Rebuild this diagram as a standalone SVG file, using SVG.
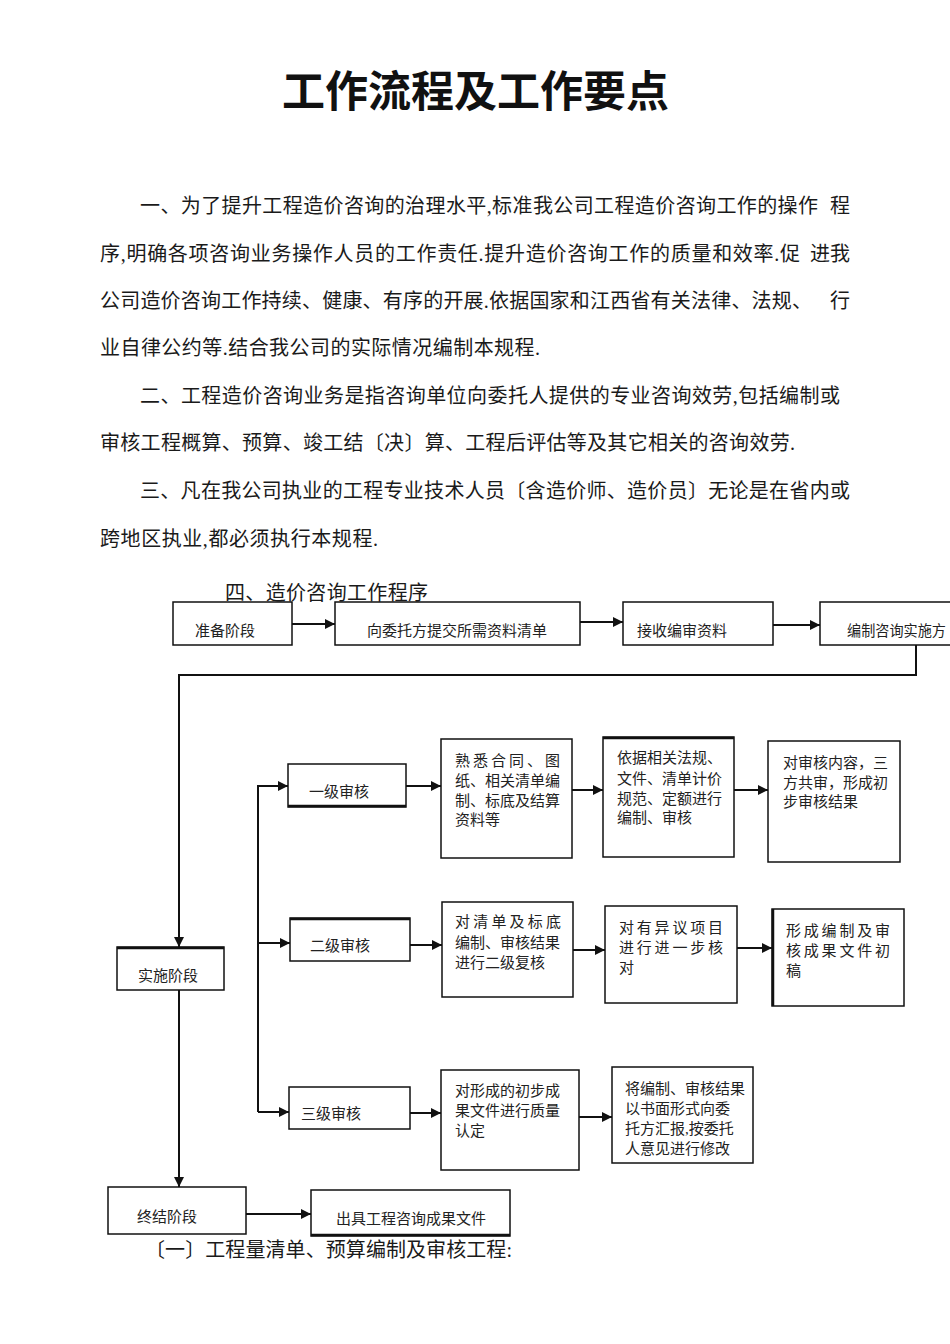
<svg xmlns="http://www.w3.org/2000/svg" width="950" height="1344" viewBox="0 0 950 1344">
<style>
.t{font-family:"Liberation Serif","Noto Sans CJK SC",serif;font-size:20px;fill:#1a1a1a}
.h{font-family:"Noto Sans CJK SC",sans-serif;font-size:43px;font-weight:bold;fill:#111}
.b{fill:#fff;stroke:#111;stroke-width:1.5}
.l{font-family:"Liberation Serif","Noto Sans CJK SC",serif;font-size:15px;fill:#222}
.c{fill:none;stroke:#111;stroke-width:2}
</style>
<defs>
<marker id="ah" viewBox="0 0 10 10" refX="10" refY="5" markerWidth="10" markerHeight="10" markerUnits="userSpaceOnUse" orient="auto">
<path d="M0,0 L10,5 L0,10 z" fill="#111"/>
</marker>
</defs>
<rect width="950" height="1344" fill="#fff"/>
<text class="h" x="282" y="107">工作流程及工作要点</text>
<g id="body">
<text class="t" x="140" y="213" textLength="678" lengthAdjust="spacing">一、为了提升工程造价咨询的治理水平,标准我公司工程造价咨询工作的操作</text>
<text class="t" x="830" y="213">程</text>
<text class="t" x="100" y="261" textLength="700" lengthAdjust="spacing">序,明确各项咨询业务操作人员的工作责任.提升造价咨询工作的质量和效率.促</text>
<text class="t" x="810" y="261">进我</text>
<text class="t" x="100" y="308" textLength="712" lengthAdjust="spacing">公司造价咨询工作持续、健康、有序的开展.依据国家和江西省有关法律、法规、</text>
<text class="t" x="830" y="308">行</text>
<text class="t" x="100" y="355" textLength="440" lengthAdjust="spacing">业自律公约等.结合我公司的实际情况编制本规程.</text>
<text class="t" x="140" y="403" textLength="700" lengthAdjust="spacing">二、工程造价咨询业务是指咨询单位向委托人提供的专业咨询效劳,包括编制或</text>
<text class="t" x="100" y="450" textLength="695" lengthAdjust="spacing">审核工程概算、预算、竣工结〔决〕算、工程后评估等及其它相关的咨询效劳.</text>
<text class="t" x="140" y="498" textLength="710" lengthAdjust="spacing">三、凡在我公司执业的工程专业技术人员〔含造价师、造价员〕无论是在省内或</text>
<text class="t" x="100" y="546" textLength="278" lengthAdjust="spacing">跨地区执业,都必须执行本规程.</text>
<text class="t" x="225" y="600" textLength="203" lengthAdjust="spacing">四、造价咨询工作程序</text>
<text class="t" x="145" y="1257" textLength="367" lengthAdjust="spacing">〔一〕工程量清单、预算编制及审核工程:</text>
</g>
<g id="connectors">
<path class="c" d="M292,624 H335" marker-end="url(#ah)"/>
<path class="c" d="M580,622 H623" marker-end="url(#ah)"/>
<path class="c" d="M773,625 H820" marker-end="url(#ah)"/>
<path class="c" d="M916,645 V675 H179 V947" marker-end="url(#ah)"/>
<path class="c" d="M179,990 V1187" marker-end="url(#ah)"/>
<path class="c" d="M246,1214 H311" marker-end="url(#ah)"/>
<path class="c" d="M258,1112 V786 H288" marker-end="url(#ah)"/>
<path class="c" d="M258,943 H290" marker-end="url(#ah)"/>
<path class="c" d="M258,1112 H289" marker-end="url(#ah)"/>
<path class="c" d="M406,786 H441" marker-end="url(#ah)"/>
<path class="c" d="M572,790 H603" marker-end="url(#ah)"/>
<path class="c" d="M734,790 H768" marker-end="url(#ah)"/>
<path class="c" d="M410,945 H442" marker-end="url(#ah)"/>
<path class="c" d="M573,950 H605" marker-end="url(#ah)"/>
<path class="c" d="M737,948 H772" marker-end="url(#ah)"/>
<path class="c" d="M410,1113 H441" marker-end="url(#ah)"/>
<path class="c" d="M579,1117 H612" marker-end="url(#ah)"/>
</g>
<g id="n-prep"><rect class="b" x="173" y="602" width="119" height="43"/><text class="l" x="195" y="636">准备阶段</text></g>
<g id="n-submit"><rect class="b" x="335" y="602" width="245" height="43"/><text class="l" x="367" y="636">向委托方提交所需资料清单</text></g>
<g id="n-receive"><rect class="b" x="623" y="602" width="150" height="43"/><text class="l" x="637" y="636">接收编审资料</text></g>
<g id="n-plan"><rect class="b" x="820" y="602" width="140" height="43"/><text class="l" x="847" y="636" textLength="99" lengthAdjust="spacingAndGlyphs">编制咨询实施方</text></g>
<g id="n-impl"><rect class="b" x="117" y="947" width="107" height="43"/><path d="M117,948 H224" stroke="#111" stroke-width="2.5"/><text class="l" x="138" y="981">实施阶段</text></g>
<g id="n-l1"><rect class="b" x="288" y="764" width="118" height="43"/><path d="M288,806 H406" stroke="#111" stroke-width="2.5"/><text class="l" x="309" y="797">一级审核</text></g>
<g id="n-l1a"><rect class="b" x="441" y="739" width="131" height="119"/>
<text class="l" x="455" y="766" textLength="105" lengthAdjust="spacing">熟悉合同、图</text>
<text class="l" x="455" y="786">纸、相关清单编</text>
<text class="l" x="455" y="806">制、标底及结算</text>
<text class="l" x="455" y="825">资料等</text></g>
<g id="n-l1b"><rect class="b" x="603" y="737" width="131" height="120"/><path d="M603,738 H734" stroke="#111" stroke-width="2.5"/>
<text class="l" x="617" y="763">依据相关法规、</text>
<text class="l" x="617" y="784">文件、清单计价</text>
<text class="l" x="617" y="804">规范、定额进行</text>
<text class="l" x="617" y="823">编制、审核</text></g>
<g id="n-l1c"><rect class="b" x="768" y="741" width="132" height="121"/>
<text class="l" x="783" y="768">对审核内容，三</text>
<text class="l" x="783" y="788">方共审，形成初</text>
<text class="l" x="783" y="807">步审核结果</text></g>
<g id="n-l2"><rect class="b" x="290" y="918" width="120" height="43"/><path d="M290,919 H410" stroke="#111" stroke-width="2.5"/><text class="l" x="310" y="951">二级审核</text></g>
<g id="n-l2a"><rect class="b" x="442" y="902" width="131" height="95"/>
<text class="l" x="455" y="927" textLength="106" lengthAdjust="spacing">对清单及标底</text>
<text class="l" x="455" y="948">编制、审核结果</text>
<text class="l" x="455" y="968">进行二级复核</text></g>
<g id="n-l2b"><rect class="b" x="605" y="906" width="132" height="97"/>
<text class="l" x="619" y="933" textLength="104" lengthAdjust="spacing">对有异议项目</text>
<text class="l" x="619" y="953" textLength="104" lengthAdjust="spacing">进行进一步核</text>
<text class="l" x="619" y="973">对</text></g>
<g id="n-l2c"><rect class="b" x="772" y="909" width="132" height="97"/><path d="M773,909 V1006" stroke="#111" stroke-width="2.5"/>
<text class="l" x="786" y="936" textLength="104" lengthAdjust="spacing">形成编制及审</text>
<text class="l" x="786" y="956" textLength="104" lengthAdjust="spacing">核成果文件初</text>
<text class="l" x="786" y="976">稿</text></g>
<g id="n-l3"><rect class="b" x="289" y="1087" width="121" height="42"/><text class="l" x="301" y="1119">三级审核</text></g>
<g id="n-l3a"><rect class="b" x="441" y="1070" width="138" height="100"/>
<text class="l" x="455" y="1096">对形成的初步成</text>
<text class="l" x="455" y="1116">果文件进行质量</text>
<text class="l" x="455" y="1136">认定</text></g>
<g id="n-l3b"><rect class="b" x="612" y="1067" width="141" height="96"/>
<text class="l" x="625" y="1094">将编制、审核结果</text>
<text class="l" x="625" y="1114">以书面形式向委</text>
<text class="l" x="625" y="1134">托方汇报,按委托</text>
<text class="l" x="625" y="1154">人意见进行修改</text></g>
<g id="n-final"><rect class="b" x="108" y="1187" width="138" height="47"/><text class="l" x="137" y="1222">终结阶段</text></g>
<g id="n-issue"><rect class="b" x="311" y="1190" width="199" height="46"/><path d="M311,1235 H510" stroke="#111" stroke-width="2.5"/><text class="l" x="336" y="1224">出具工程咨询成果文件</text></g>
</svg>
